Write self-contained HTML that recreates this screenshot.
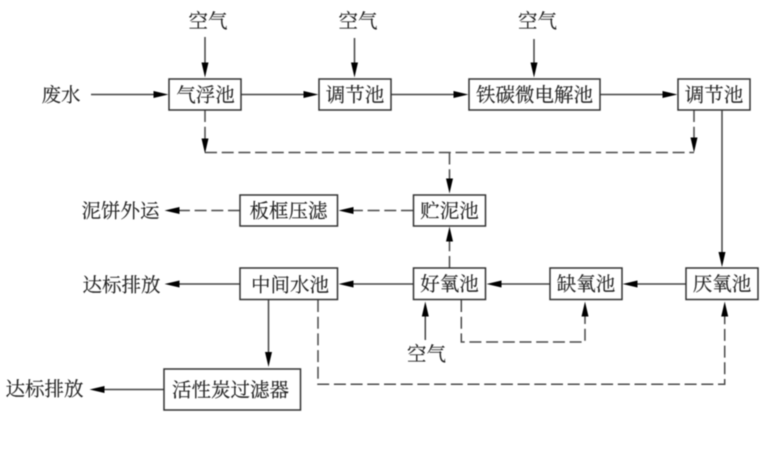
<!DOCTYPE html>
<html lang="zh">
<head>
<meta charset="utf-8">
<style>
html,body{margin:0;padding:0;background:#fff;width:762px;height:450px;overflow:hidden}
svg{display:block;filter:blur(.5px)}
text{font-family:"Liberation Serif","Noto Serif CJK SC",serif;font-size:19.5px;fill:#222;text-anchor:middle;dominant-baseline:central;transform:translateY(1.2px);stroke:#222;stroke-width:.15px}
.b{fill:#fff;stroke:#333;stroke-width:1.5}
.s{fill:none;stroke:#444;stroke-width:1.5}
.d{fill:none;stroke:#4a4a4a;stroke-width:1.5;stroke-dasharray:12 4.7}
.a{fill:#000;stroke:none}
</style>
</head>
<body>
<svg width="762" height="450" viewBox="0 0 762 450" xmlns="http://www.w3.org/2000/svg">
<!-- solid lines -->
<path class="s" d="M205 37V66M354.500 38V66M534 39V66M91 94.500H157M241 94.500H307M391 94.500H457M600 94.500H666M722 110V256M413 284H350M550 284H499M686 284H635M240 284H177M268.500 300V356M164 389.500H102M425.300 340V313"/>
<!-- dashed lines -->
<path class="d" d="M205 110V140"/>
<path class="d" d="M205 152.500H694"/>
<path class="d" d="M694 110V140"/>
<path class="d" d="M449.500 152.500V182"/>
<path class="d" d="M413 210.500H350"/>
<path class="d" d="M240 210.500H177"/>
<path class="d" d="M449.500 268V238"/>
<path class="d" d="M461.300 300V342H585V313"/>
<path class="d" d="M318 300V384.300H724.700V313"/>
<!-- arrowheads: down -->
<path class="a" d="M201.500 62.500h7l-3.500 15zM351 62.500h7l-3.500 15zM530.500 62.500h7l-3.500 15zM201.500 138.500h7l-3.500 15zM690.500 137.500h7l-3.500 15zM446 178.500h7l-3.500 15zM718.500 252h7l-3.500 15zM265 352h7l-3.500 15z"/>
<!-- arrowheads: right -->
<path class="a" d="M153.500 91v7l15-3.500zM303.500 91v7l15-3.500zM453.500 91v7l15-3.500zM662.500 91v7l15-3.500z"/>
<!-- arrowheads: left -->
<path class="a" d="M353.500 207v7l-15-3.500zM179.500 207v7l-15-3.500zM353.500 280.500v7l-15-3.500zM501.500 280.500v7l-15-3.500zM637.500 280.500v7l-15-3.500zM179.500 280.500v7l-15-3.500zM104.500 386v7l-15-3.500z"/>
<!-- arrowheads: up -->
<path class="a" d="M446 241.500h7l-3.500-15zM421.800 316.500h7l-3.500-15zM581.500 316.500h7l-3.500-15zM721.200 316.500h7l-3.500-15z"/>
<!-- boxes -->
<rect class="b" x="169" y="79" width="72" height="31"/>
<rect class="b" x="319" y="79" width="72" height="31"/>
<rect class="b" x="469" y="79" width="131" height="31"/>
<rect class="b" x="678" y="79" width="72" height="31"/>
<rect class="b" x="240" y="195" width="97.500" height="31"/>
<rect class="b" x="413.500" y="195" width="72" height="31"/>
<rect class="b" x="240" y="268" width="97.500" height="31.500"/>
<rect class="b" x="413.500" y="268" width="72" height="31.500"/>
<rect class="b" x="550" y="268" width="72" height="31.500"/>
<rect class="b" x="686" y="268" width="72" height="31.500"/>
<rect class="b" x="164" y="369" width="136.500" height="41"/>
<!-- box labels -->
<text x="205.500" y="95">气浮池</text>
<text x="355" y="95">调节池</text>
<text x="534.500" y="95">铁碳微电解池</text>
<text x="714" y="95">调节池</text>
<text x="288.500" y="211">板框压滤</text>
<text x="449.500" y="211">贮泥池</text>
<text x="290" y="285">中间水池</text>
<text x="449.500" y="284">好氧池</text>
<text x="586" y="284">缺氧池</text>
<text x="722" y="284">厌氧池</text>
<text x="230.500" y="390">活性炭过滤器</text>
<!-- free labels -->
<text x="208" y="21">空气</text>
<text x="358" y="21">空气</text>
<text x="537.500" y="21">空气</text>
<text x="426.500" y="354">空气</text>
<text x="61" y="95">废水</text>
<text x="120.500" y="211">泥饼外运</text>
<text x="121.500" y="285">达标排放</text>
<text x="44.500" y="389">达标排放</text>
</svg>
</body>
</html>
